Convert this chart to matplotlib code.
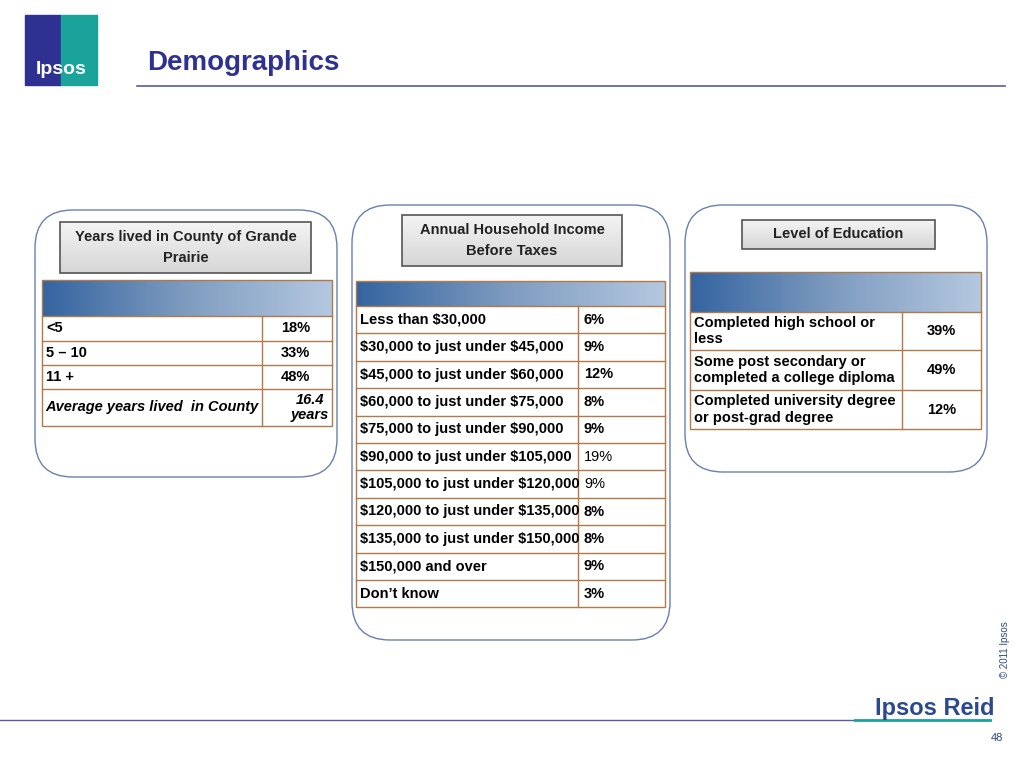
import matplotlib.pyplot as plt
import numpy as np
from matplotlib.patches import FancyBboxPatch, Rectangle
from matplotlib.colors import LinearSegmentedColormap

plt.rcParams['text.parse_math'] = False
plt.rcParams['font.family'] = ['Liberation Sans', 'DejaVu Sans']

years_labels = ["<5", "5 – 10", "11 +", "Average years lived  in County"]
years_values = ["18%", "33%", "48%", "16.4\nyears"]

income_labels = ["Less than $30,000", "$30,000 to just under $45,000", "$45,000 to just under $60,000",
                 "$60,000 to just under $75,000", "$75,000 to just under $90,000",
                 "$90,000 to just under $105,000", "$105,000 to just under $120,000",
                 "$120,000 to just under $135,000", "$135,000 to just under $150,000",
                 "$150,000 and over", "Don\u2019t know"]
income_values = ["6%", "9%", "12%", "8%", "9%", "19%", "9%", "8%", "8%", "9%", "3%"]

edu_labels = ["Completed high school or\nless", "Some post secondary or\ncompleted a college diploma",
              "Completed university degree\nor post-grad degree"]
edu_values = ["39%", "49%", "12%"]

NAVY = "#2e3192"
BORDER = "#b07a4a"

fig = plt.figure(figsize=(10.24, 7.68), dpi=100)
ax = fig.add_axes([0, 0, 1, 1])
ax.set_xlim(0, 1024)
ax.set_ylim(768, 0)
ax.axis("off")

# logo
ax.add_patch(Rectangle((25, 15), 36, 70, color=NAVY))
ax.add_patch(Rectangle((61, 15), 36, 70, color="#1aa39a"))
ax.text(61, 70, "Ipsos", color="white", fontsize=14, fontweight="bold", ha="center", va="center")
ax.text(147, 63, "Demographics", color=NAVY, fontsize=20, fontweight="bold", va="center")
ax.plot([137, 1005], [86, 86], color="#5a5aa8", lw=1.2)

# footer
ax.plot([0, 855], [720, 720], color="#5a5aa8", lw=1)
ax.plot([855, 990], [720, 720], color="#1aa39a", lw=2)
ax.text(935, 708, "Ipsos Reid", color="#2b4a8c", fontsize=17, fontweight="bold", ha="center", va="center")
ax.text(997, 738, "48", color="#2b4a8c", fontsize=8, ha="center", va="center")
ax.text(1005, 650, "© 2011 Ipsos", color="#2b4a8c", fontsize=7, rotation=90, ha="center", va="center")

grad = np.linspace(0, 1, 256).reshape(1, -1)
blue_cmap = LinearSegmentedColormap.from_list("b", ["#3464a0", "#7f9cc0", "#b4c8e0"])
grey_cmap = LinearSegmentedColormap.from_list("g", ["#f4f4f4", "#d6d6d6"])


def panel(x0, x1, y0, y1):
    ax.add_patch(FancyBboxPatch((x0, y0), x1 - x0, y1 - y0, boxstyle="round,pad=0,rounding_size=38",
                                fc="white", ec="#6a7fb0", lw=1))


def header_box(x0, x1, y0, y1, text):
    ax.imshow(grad.T, cmap=grey_cmap, extent=(x0, x1, y1, y0), aspect="auto", zorder=2)
    ax.add_patch(Rectangle((x0, y0), x1 - x0, y1 - y0, fill=False, ec="#555555", lw=1.2, zorder=3))
    ax.text((x0 + x1) / 2, (y0 + y1) / 2, text, fontsize=10.5, fontweight="bold", ha="center",
            va="center", linespacing=1.6, zorder=4, color="#222222")


def table(x0, x1, xs, hy0, hy1, rows_y, labels, values, val_align="center",
          label_styles=None, value_weights=None, fs=10.5):
    ax.imshow(grad, cmap=blue_cmap, extent=(x0, x1, hy1, hy0), aspect="auto", zorder=2)
    ax.add_patch(Rectangle((x0, hy0), x1 - x0, rows_y[-1] - hy0, fill=False, ec=BORDER, lw=1, zorder=3))
    for y in rows_y[:-1]:
        ax.plot([x0, x1], [y, y], color=BORDER, lw=1, zorder=3)
    ax.plot([xs, xs], [rows_y[0], rows_y[-1]], color=BORDER, lw=1, zorder=3)
    for i, (lab, val) in enumerate(zip(labels, values)):
        yc = (rows_y[i] + rows_y[i + 1]) / 2
        st = label_styles[i] if label_styles else "normal"
        if st == "italic":
            ax.text((x0 + xs) / 2, yc, lab, fontsize=fs, fontweight="bold", style="italic",
                    ha="center", va="center", zorder=4)
        else:
            ax.text(x0 + 4, yc, lab, fontsize=fs, fontweight="bold", ha="left", va="center",
                    linespacing=1.2, zorder=4)
        vw = value_weights[i] if value_weights else "bold"
        if val_align == "right":
            vx, ha = x1 - 22, "right"
        elif val_align == "left":
            vx, ha = xs + 6, "left"
        else:
            vx, ha = (xs + x1) / 2, "center"
        ax.text(vx, yc, val, fontsize=fs, fontweight=vw, style=st,
                ha=ha if st != "italic" else "center", va="center", linespacing=1.1, zorder=4)


# panel 1
panel(35, 337, 210, 477)
header_box(60, 311, 222, 273, "Years lived in County of Grande\nPrairie")
table(42, 332, 262, 280, 316, [316, 341, 365, 389, 426], years_labels, years_values,
      val_align="right", label_styles=["normal", "normal", "normal", "italic"])

# panel 2
panel(352, 670, 205, 640)
header_box(402, 622, 215, 266, "Annual Household Income\nBefore Taxes")
rows2 = [306 + 27.4 * i for i in range(12)]
weights2 = ["bold"] * 11
weights2[5] = "normal"
weights2[6] = "normal"
table(356, 665, 578, 281, 306, rows2, income_labels, income_values, val_align="left",
      value_weights=weights2)

# panel 3
panel(685, 987, 205, 472)
header_box(742, 935, 220, 249, "Level of Education")
table(690, 981, 902, 272, 312, [312, 350, 390, 429], edu_labels, edu_values)

fig.savefig("out.png", dpi=100)
